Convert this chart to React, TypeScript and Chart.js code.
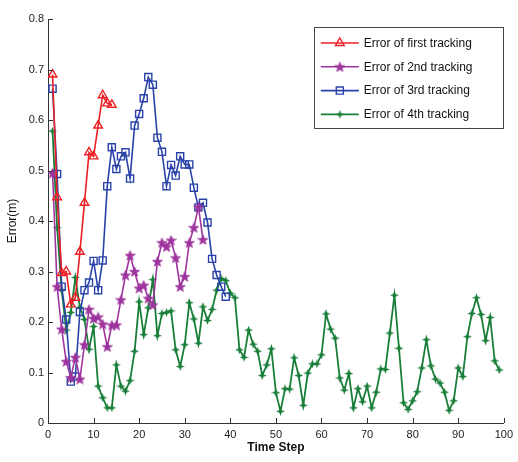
import React, { useEffect, useRef } from 'react';
import { Chart, registerables } from 'chart.js';
import { drawPoint } from 'chart.js/helpers';

Chart.register(...registerables);

// ---- data (time steps are 1..n for each series) ----
const seriesNames = [
  'Error of first tracking',
  'Error of 2nd tracking',
  'Error of 3rd tracking',
  'Error of 4th tracking',
];

const firstErr = [0.69, 0.447, 0.297, 0.3, 0.235, 0.248, 0.339, 0.436, 0.536, 0.528, 0.589, 0.649, 0.633, 0.63];

const secondErr = [
  0.495, 0.27, 0.186, 0.122, 0.09, 0.13, 0.087, 0.155, 0.225, 0.207,
  0.21, 0.196, 0.151, 0.194, 0.194, 0.244, 0.293, 0.332, 0.3, 0.267,
  0.273, 0.247, 0.234, 0.32, 0.357, 0.349, 0.362, 0.327, 0.27, 0.29,
  0.357, 0.387, 0.428, 0.363,
];

const thirdErr = [
  0.662, 0.493, 0.27, 0.205, 0.082, 0.092, 0.22, 0.263, 0.278, 0.321,
  0.263, 0.322, 0.469, 0.546, 0.503, 0.528, 0.536, 0.484, 0.589, 0.612,
  0.643, 0.685, 0.67, 0.565, 0.537, 0.469, 0.511, 0.49, 0.528, 0.512,
  0.512, 0.466, 0.427, 0.436, 0.397, 0.325, 0.293, 0.27, 0.25,
];

const fourthErr = [
  0.578, 0.387, 0.263, 0.184, 0.219, 0.288, 0.229, 0.205, 0.146, 0.191,
  0.073, 0.05, 0.03, 0.03, 0.115, 0.073, 0.063, 0.084, 0.142, 0.24,
  0.175, 0.228, 0.284, 0.173, 0.217, 0.219, 0.222, 0.145, 0.112, 0.155,
  0.238, 0.206, 0.158, 0.23, 0.203, 0.225, 0.263, 0.286, 0.282, 0.257,
  0.248, 0.145, 0.13, 0.184, 0.156, 0.142, 0.094, 0.115, 0.147, 0.06,
  0.023, 0.068, 0.067, 0.129, 0.094, 0.035, 0.099, 0.117, 0.117, 0.135,
  0.216, 0.186, 0.168, 0.089, 0.065, 0.098, 0.03, 0.068, 0.042, 0.073,
  0.03, 0.061, 0.107, 0.106, 0.178, 0.253, 0.148, 0.04, 0.027, 0.044,
  0.062, 0.109, 0.165, 0.113, 0.087, 0.079, 0.061, 0.025, 0.044, 0.109,
  0.092, 0.171, 0.217, 0.248, 0.215, 0.163, 0.209, 0.123, 0.105,
];

const xTickStep = 10;
const yTickStep = 0.1;

const FONT = '"Liberation Sans", Arial, Helvetica, sans-serif';
const RED = 'rgb(236,32,36)';
const PURPLE = 'rgb(158,52,158)';
const BLUE = 'rgb(40,66,168)';
const GREEN = 'rgb(24,126,56)';

const toPoints = (vals: number[]) => vals.map((v, i) => ({ x: i + 1, y: v }));

function makeStar(color: string, size: number) {
  const c = document.createElement('canvas');
  c.width = size;
  c.height = size;
  const ctx = c.getContext('2d')!;
  const cx = size / 2;
  const cy = size / 2 + 0.5;
  const R = size / 2 - 0.3;
  const r = R * 0.42;
  ctx.beginPath();
  for (let i = 0; i < 10; i++) {
    const a = -Math.PI / 2 + (i * Math.PI) / 5;
    const rad = i % 2 === 0 ? R : r;
    ctx.lineTo(cx + rad * Math.cos(a), cy + rad * Math.sin(a));
  }
  ctx.closePath();
  ctx.fillStyle = color;
  ctx.fill();
  ctx.strokeStyle = color;
  ctx.lineWidth = 0.8;
  ctx.stroke();
  return c;
}

function makeSpark(color: string, size: number) {
  const c = document.createElement('canvas');
  c.width = size;
  c.height = size;
  const ctx = c.getContext('2d')!;
  const cx = size / 2;
  const cy = size / 2;
  const R = size / 2;
  const r = 1.6;
  ctx.beginPath();
  for (let i = 0; i < 8; i++) {
    const a = -Math.PI / 2 + (i * Math.PI) / 4;
    const rad = i % 2 === 0 ? R : r;
    ctx.lineTo(cx + rad * Math.cos(a), cy + rad * Math.sin(a));
  }
  ctx.closePath();
  ctx.fillStyle = color;
  ctx.fill();
  return c;
}

const inwardTicks = {
  id: 'inwardTicks',
  afterDatasetsDraw(chart: any) {
    const { ctx, chartArea, scales } = chart;
    ctx.save();
    ctx.strokeStyle = '#333';
    ctx.lineWidth = 1;
    scales.x.ticks.forEach((t: any) => {
      const px = Math.round(scales.x.getPixelForValue(t.value)) + 0.5;
      ctx.beginPath();
      ctx.moveTo(px, chartArea.bottom);
      ctx.lineTo(px, chartArea.bottom - 5);
      ctx.stroke();
    });
    scales.y.ticks.forEach((t: any) => {
      const py = Math.round(scales.y.getPixelForValue(t.value)) + 0.5;
      ctx.beginPath();
      ctx.moveTo(chartArea.left, py);
      ctx.lineTo(chartArea.left + 5, py);
      ctx.stroke();
    });
    ctx.restore();
  },
};

const boxLegend = {
  id: 'boxLegend',
  afterDraw(chart: any) {
    const { ctx, chartArea } = chart;
    const w = 190;
    const h = 101;
    const x0 = chartArea.right - w;
    const y0 = chartArea.top + 8;
    ctx.save();
    ctx.fillStyle = '#fff';
    ctx.fillRect(x0, y0, w, h);
    ctx.strokeStyle = '#444';
    ctx.lineWidth = 1;
    ctx.strokeRect(Math.round(x0) + 0.5, Math.round(y0) + 0.5, w - 1, h);
    chart.data.datasets.forEach((ds: any, i: number) => {
      const y = y0 + 16 + i * 23.8;
      ctx.strokeStyle = ds.borderColor;
      ctx.lineWidth = ds.borderWidth;
      ctx.beginPath();
      ctx.moveTo(x0 + 7, y);
      ctx.lineTo(x0 + 45, y);
      ctx.stroke();
      ctx.fillStyle = ds.pointBackgroundColor;
      ctx.strokeStyle = ds.pointBorderColor;
      ctx.lineWidth = ds.pointBorderWidth;
      drawPoint(ctx, { pointStyle: ds.pointStyle, radius: ds.pointRadius, rotation: 0, borderWidth: ds.pointBorderWidth }, x0 + 26, y);
      ctx.fillStyle = '#111';
      ctx.font = `12px ${FONT}`;
      ctx.textBaseline = 'middle';
      ctx.textAlign = 'left';
      ctx.fillText(ds.label, x0 + 50, y + 0.5);
    });
    ctx.restore();
  },
};

export default function App() {
  const canvasRef = useRef<HTMLCanvasElement | null>(null);

  useEffect(() => {
    if (!canvasRef.current) return;
    const star = makeStar(PURPLE, 11);
    const spark = makeSpark(GREEN, 9);
    const chart = new Chart(canvasRef.current, {
      type: 'line',
      data: {
        datasets: [
          {
            label: seriesNames[0],
            data: toPoints(firstErr),
            borderColor: RED,
            borderWidth: 1.6,
            pointStyle: 'triangle',
            pointRadius: 5,
            pointBorderWidth: 1.4,
            pointBorderColor: RED,
            pointBackgroundColor: 'rgba(255,255,255,0)',
            tension: 0,
          },
          {
            label: seriesNames[1],
            data: toPoints(secondErr),
            borderColor: PURPLE,
            borderWidth: 1.6,
            pointStyle: star,
            pointRadius: 5,
            pointBorderWidth: 1,
            pointBorderColor: PURPLE,
            pointBackgroundColor: PURPLE,
            tension: 0,
          },
          {
            label: seriesNames[2],
            data: toPoints(thirdErr),
            borderColor: BLUE,
            borderWidth: 1.6,
            pointStyle: 'rect',
            pointRadius: 5,
            pointBorderWidth: 1.4,
            pointBorderColor: BLUE,
            pointBackgroundColor: 'rgba(255,255,255,0)',
            tension: 0,
          },
          {
            label: seriesNames[3],
            data: toPoints(fourthErr),
            borderColor: GREEN,
            borderWidth: 1.8,
            pointStyle: spark,
            pointRadius: 4,
            pointBorderWidth: 1,
            pointBorderColor: GREEN,
            pointBackgroundColor: GREEN,
            tension: 0,
          },
        ],
      },
      options: {
        responsive: false,
        animation: false,
        devicePixelRatio: 1,
        layout: { padding: { top: 19, right: 13, bottom: 0, left: 0 } },
        plugins: {
          legend: { display: false },
          tooltip: { enabled: false },
          title: { display: false },
        },
        scales: {
          x: {
            type: 'linear',
            min: 0,
            max: 100,
            grid: { display: false, drawTicks: false },
            border: { display: true, color: '#333', width: 1 },
            ticks: {
              stepSize: xTickStep,
              padding: 5,
              maxRotation: 0,
              color: '#222',
              font: { family: FONT, size: 11 },
            },
            title: {
              display: true,
              text: 'Time Step',
              color: '#111',
              font: { family: FONT, size: 12, weight: 'bold' },
              padding: { top: 0, bottom: 7 },
            },
            afterFit: (s: any) => {
              s.height = 39;
            },
          },
          y: {
            type: 'linear',
            min: 0,
            max: 0.8,
            grid: { display: false, drawTicks: false },
            border: { display: true, color: '#333', width: 1 },
            ticks: {
              stepSize: yTickStep,
              padding: 4,
              color: '#222',
              font: { family: FONT, size: 11 },
              callback: (v: any) => String(Math.round(Number(v) * 10) / 10),
            },
            title: {
              display: true,
              text: 'Error(m)',
              color: '#111',
              font: { family: FONT, size: 12 },
              padding: { top: 5, bottom: 0 },
            },
            afterFit: (s: any) => {
              s.width = 48;
            },
          },
        },
      },
      plugins: [inwardTicks, boxLegend],
    } as any);
    return () => chart.destroy();
  }, []);

  return (
    <div style={{ position: 'absolute', left: 0, top: 0, width: 518, height: 462, background: '#fff' }}>
      <canvas ref={canvasRef} width={518} height={462} style={{ width: 518, height: 462, display: 'block' }} />
    </div>
  );
}
